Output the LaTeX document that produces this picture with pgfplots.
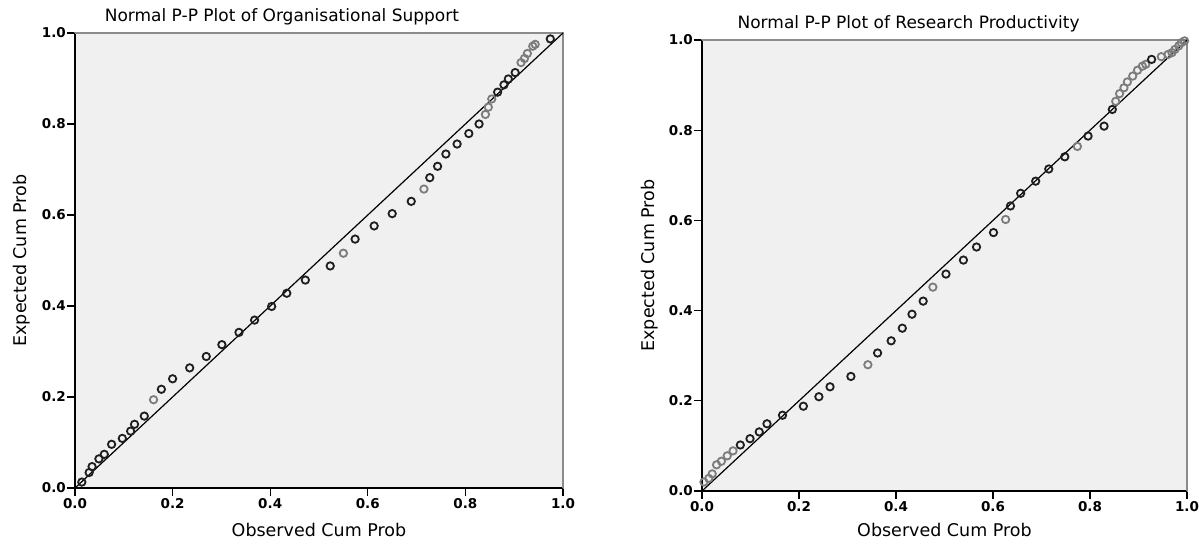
\documentclass[border=0pt]{standalone}
\usepackage{pgfplots}
\pgfplotsset{compat=1.18}
\usepackage{fontspec}
\setmainfont{DejaVu Sans}
\definecolor{bgc}{HTML}{F0F0F0}
\definecolor{darkpt}{HTML}{1E1E1E}
\definecolor{graypt}{HTML}{7C7C7C}
\definecolor{framegray}{HTML}{8C8C8C}

\pgfplotsset{
  ppstyle/.style={
    scale only axis,
    xmin=0,xmax=1,ymin=0,ymax=1,
    clip=false,
    axis background/.style={fill=bgc},
    axis line style={draw=framegray,line width=1.5pt},
    tick pos=left,
    tick align=outside,
    major tick length=8pt,
    tick style={black,line width=1.2pt},
    xtick={0,0.2,0.4,0.6,0.8,1},
    ytick={0,0.2,0.4,0.6,0.8,1},
    /pgf/number format/.cd,fixed,fixed zerofill,precision=1,assume math mode=true,
    /pgfplots/.cd,
    ticklabel style={font=\fontsize{13.5}{15}\selectfont\bfseries,text=black},
    yticklabel style={inner sep=1pt},
    xticklabel style={inner sep=2pt},
    label style={font=\fontsize{17.5}{20}\selectfont},
    title style={font=\fontsize{17}{20}\selectfont,anchor=south,inner sep=2pt},
  },
  dk/.style={only marks,mark=o,mark size=3.7pt,mark options={line width=1.8pt,draw=darkpt}},
  gr/.style={only marks,mark=o,mark size=3.7pt,mark options={line width=1.8pt,draw=graypt}},
}

\begin{document}
\begin{tikzpicture}
\useasboundingbox (0,0) rectangle (1199pt,545pt);

% ---------- Left plot ----------
\begin{axis}[ppstyle,
  at={(75pt,57pt)},anchor=south west,
  width=488pt,height=455pt,
  title={Normal P-P Plot of Organisational Support},
  title style={at={(axis description cs:0.424,1.0)}},
  xlabel={Observed Cum Prob},
  ylabel={Expected Cum Prob},
  xlabel style={at={(axis description cs:0.5,-0.092)},anchor=center},
  ylabel style={at={(axis description cs:-0.109,0.5)},anchor=center},
]
\draw[black,line width=1.3pt] (rel axis cs:0,1) -- (rel axis cs:0,0) -- (rel axis cs:1,0);
\draw[framegray,line width=1.5pt] (rel axis cs:0,1) -- (rel axis cs:1,1) -- (rel axis cs:1,0);
\addplot[black,line width=1.2pt] coordinates {(0,0) (1,1)};
\addplot[gr] coordinates {
(0.161,0.194) (0.550,0.516) (0.715,0.657) (0.841,0.821) (0.847,0.837)
(0.854,0.855) (0.914,0.935) (0.921,0.944) (0.927,0.955) (0.938,0.971)
(0.943,0.975)
};
\addplot[dk] coordinates {
(0.014,0.013) (0.029,0.034) (0.035,0.047) (0.049,0.064) (0.060,0.074)
(0.075,0.096) (0.097,0.109) (0.114,0.125) (0.122,0.140) (0.142,0.158)
(0.177,0.217) (0.200,0.240) (0.235,0.264) (0.269,0.289) (0.301,0.315)
(0.336,0.342) (0.368,0.369) (0.403,0.399) (0.434,0.428) (0.472,0.457)
(0.523,0.488) (0.574,0.547) (0.613,0.576) (0.650,0.603) (0.689,0.630)
(0.727,0.682) (0.743,0.707) (0.760,0.734) (0.783,0.756) (0.807,0.779)
(0.828,0.800) (0.866,0.870) (0.879,0.886) (0.888,0.899) (0.902,0.913)
(0.974,0.987)
};
\end{axis}

% ---------- Right plot ----------
\begin{axis}[ppstyle,
  at={(702pt,54pt)},anchor=south west,
  width=485pt,height=451pt,
  title={Normal P-P Plot of Research Productivity},
  title style={at={(axis description cs:0.426,1.0)}},
  xlabel={Observed Cum Prob},
  ylabel={Expected Cum Prob},
  xlabel style={at={(axis description cs:0.5,-0.087)},anchor=center},
  ylabel style={at={(axis description cs:-0.107,0.5)},anchor=center},
]
\draw[black,line width=1.3pt] (rel axis cs:0,1) -- (rel axis cs:0,0) -- (rel axis cs:1,0);
\draw[framegray,line width=1.5pt] (rel axis cs:0,1) -- (rel axis cs:1,1) -- (rel axis cs:1,0);
\addplot[black,line width=1.2pt] coordinates {(0,0) (1,1)};
\addplot[gr] coordinates {
(0.004,0.020) (0.014,0.028) (0.021,0.038) (0.030,0.058) (0.040,0.066)
(0.052,0.078) (0.064,0.089) (0.342,0.280) (0.476,0.452) (0.626,0.602)
(0.774,0.764) (0.853,0.864) (0.861,0.881) (0.870,0.894) (0.877,0.907)
(0.888,0.920) (0.898,0.933) (0.908,0.942) (0.915,0.946) (0.947,0.963)
(0.961,0.968) (0.969,0.972) (0.975,0.979) (0.983,0.987) (0.988,0.994)
(0.995,0.998)
};
\addplot[dk] coordinates {
(0.079,0.102) (0.099,0.116) (0.118,0.131) (0.134,0.149) (0.166,0.168)
(0.209,0.188) (0.241,0.209) (0.264,0.231) (0.307,0.254) (0.362,0.306)
(0.390,0.333) (0.413,0.361) (0.433,0.392) (0.456,0.421) (0.503,0.481)
(0.539,0.512) (0.566,0.541) (0.601,0.573) (0.636,0.632) (0.657,0.660)
(0.688,0.687) (0.715,0.714) (0.748,0.741) (0.796,0.787) (0.829,0.809)
(0.846,0.846) (0.927,0.957)
};
\end{axis}
\end{tikzpicture}
\end{document}
